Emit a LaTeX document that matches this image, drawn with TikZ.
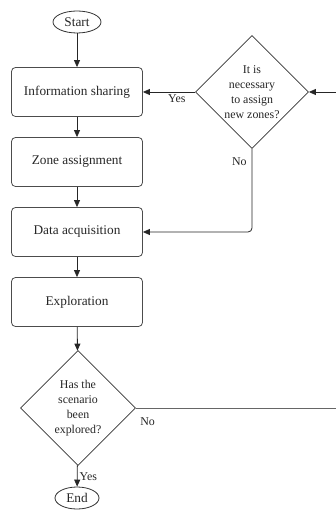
\documentclass[tikz,border=0pt]{standalone}
\usepackage{fontspec}
\setmainfont{Liberation Serif}
\usetikzlibrary{shapes.geometric,arrows.meta}
\begin{document}
\begin{tikzpicture}[x=1pt,y=-1pt,
  every node/.style={text=black!85},
  procbox/.style={draw=black!70, line width=0.8pt, rounded corners=4pt,
    minimum width=131pt, minimum height=49pt, inner sep=0pt,
    font=\fontsize{13.3}{15}\selectfont},
  terminal/.style={draw=black!80, line width=0.8pt, ellipse,
    minimum width=48pt, minimum height=22pt, inner sep=0pt,
    font=\fontsize{13.3}{15}\selectfont},
  decision/.style={draw=black!80, line width=0.8pt, diamond, aspect=1,
    minimum width=115pt, minimum height=115pt, inner sep=0pt, align=center,
    font=\fontsize{11.9}{15.2}\selectfont},
  flow/.style={draw=black!85, line width=0.8pt, -{Triangle[length=7pt,width=6pt]}},
  plainline/.style={draw=black!60, line width=0.9pt},
  lbl/.style={inner sep=1pt, font=\fontsize{11.9}{14}\selectfont}]
\useasboundingbox (0,0) rectangle (336,510);

% main column
\node[terminal] (start) at (77,22) {Start};
\node[procbox] (info) at (77,92) {Information sharing};
\node[procbox] (zone) at (77,162) {Zone assignment};
\node[procbox] (data) at (77,232) {Data acquisition};
\node[procbox] (expl) at (77,302) {Exploration};
\node[decision] (done) at (78,408) {Has the\\scenario\\been\\explored?};
\node[terminal, minimum width=44pt] (finish) at (77,498) {End};

% re-zoning check
\node[decision, minimum width=113pt, minimum height=113pt] (newz) at (252,92)
  {It is\\necessary\\to assign\\new zones?};

% loose ends running off to the right
\coordinate (rin) at (336,92);
\coordinate (rout) at (336,408);

% connectors
\draw[flow] (start) -- (info);
\draw[flow] (info) -- (zone);
\draw[flow] (zone) -- (data);
\draw[flow] (data) -- (expl);
\draw[flow] (expl) -- (done);
\draw[flow] (done) -- node[lbl, anchor=west, pos=0.55, xshift=1pt] {Yes} (finish);
\draw[plainline] (done.east) -- node[lbl, anchor=north west, pos=0, xshift=3pt, yshift=-8pt] {No} (rout);
\draw[flow] (rin) -- (newz.east);
\draw[flow] (newz.west) -- node[lbl, anchor=north, pos=0.35, yshift=-1pt] {Yes} (info.east);
\draw[flow, rounded corners=4pt] (newz.south) |- node[lbl, anchor=east, pos=0.075, xshift=-4pt] {No} (data.east);
\end{tikzpicture}
\end{document}
